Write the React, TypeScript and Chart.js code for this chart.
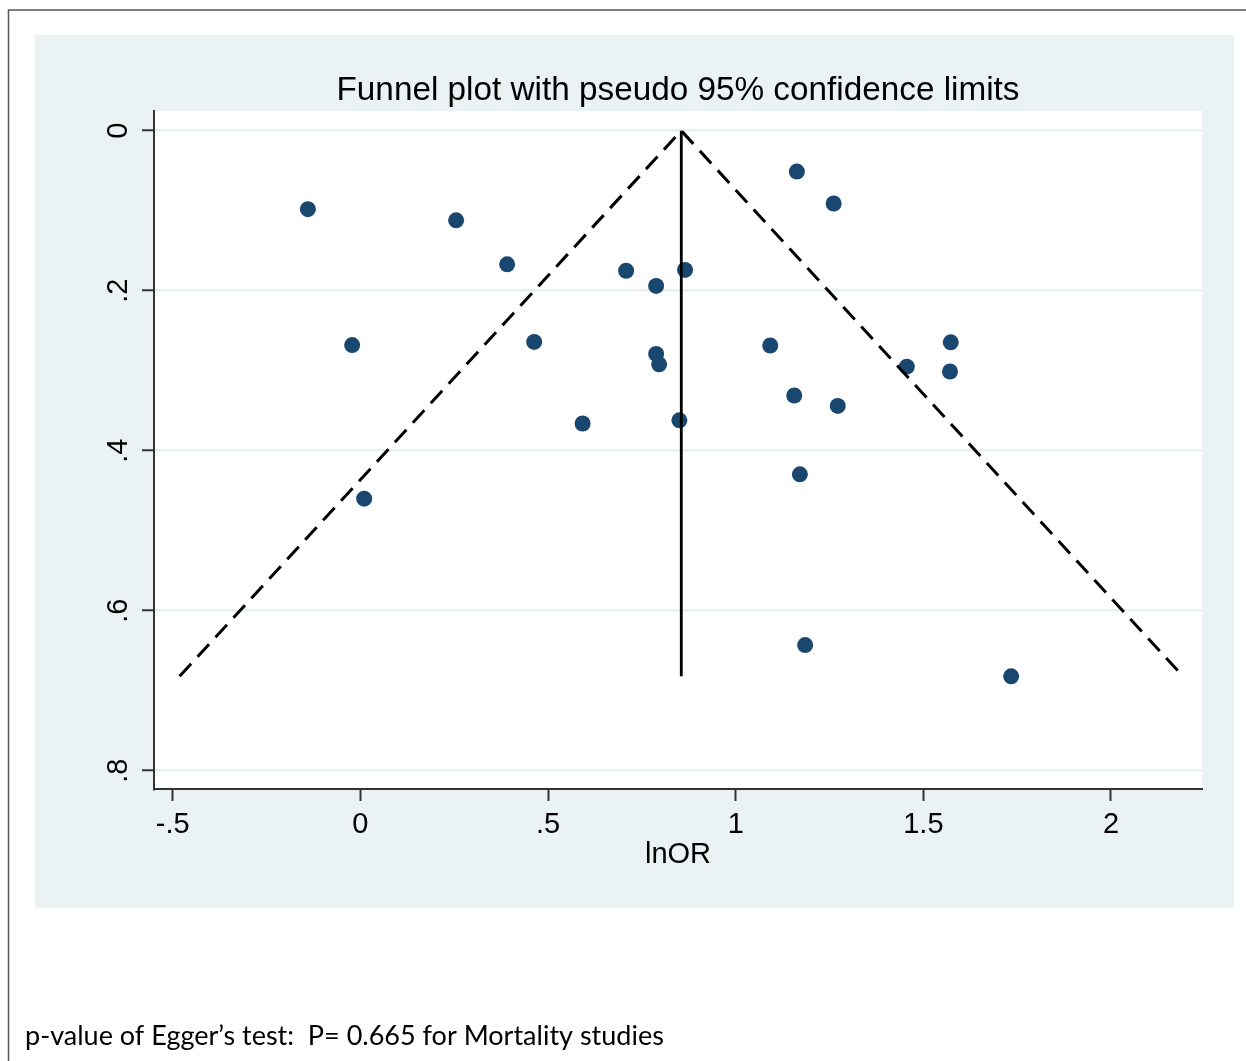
import { useEffect, useRef } from 'react';
import { Chart, registerables } from 'chart.js';

Chart.register(...registerables);

// Study estimates: log odds ratio and its standard error
const lnOR = [
  -0.140, 0.255, 0.391, -0.022, 0.463, 0.010, 0.592, 0.708, 0.788, 0.865, 0.788, 0.796,
  0.850, 1.163, 1.261, 1.092, 1.156, 1.272, 1.171, 1.456, 1.573, 1.571, 1.185, 1.734,
];
const seLnOR = [
  0.098, 0.112, 0.167, 0.268, 0.264, 0.460, 0.366, 0.175, 0.194, 0.174, 0.279, 0.292,
  0.362, 0.051, 0.091, 0.2685, 0.331, 0.344, 0.4295, 0.295, 0.2645, 0.301, 0.643, 0.682,
];

// Pooled (fixed-effect) estimate and the z value of the pseudo 95% limits
const pooledLnOR = 0.855;
const zLimit = 1.96;

const xTicks = [-0.5, 0, 0.5, 1, 1.5, 2];
const xTickLabels = ['-.5', '0', '.5', '1', '1.5', '2'];
const yTicks = [0, 0.2, 0.4, 0.6, 0.8];
const yTickLabels = ['0', '.2', '.4', '.6', '.8'];

const titleText = 'Funnel plot with pseudo 95% confidence limits';
const xTitle = 'lnOR';
const footnote = 'p-value of Egger\u2019s test:  P= 0.665 for Mortality studies';

const W = 1246;
const H = 1061;
const FONT = "'Liberation Sans', Arial, sans-serif";

export default function App() {
  const ref = useRef<HTMLCanvasElement | null>(null);

  useEffect(() => {
    const canvas = ref.current;
    if (!canvas) return;

    const maxSe = Math.max(...seLnOR);
    const funnel = [
      { x: pooledLnOR - zLimit * maxSe, y: maxSe },
      { x: pooledLnOR, y: 0 },
      { x: pooledLnOR + zLimit * maxSe, y: maxSe },
    ];
    const centre = [
      { x: pooledLnOR, y: 0 },
      { x: pooledLnOR, y: maxSe },
    ];
    const studies = lnOR.map((x, i) => ({ x, y: seLnOR[i] }));

    const backdrop = {
      id: 'backdrop',
      beforeDraw(chart: any) {
        const { ctx, chartArea } = chart;
        ctx.save();
        ctx.fillStyle = '#ffffff';
        ctx.fillRect(0, 0, W, H);
        // outer frame
        ctx.strokeStyle = '#555555';
        ctx.lineWidth = 1.5;
        ctx.beginPath();
        ctx.moveTo(8.5, H);
        ctx.lineTo(8.5, 10);
        ctx.lineTo(W, 10);
        ctx.stroke();
        // graph region
        ctx.fillStyle = '#EAF2F3';
        ctx.fillRect(35, 35, 1234 - 35, 908 - 35);
        // plot region
        ctx.fillStyle = '#ffffff';
        ctx.fillRect(chartArea.left, chartArea.top, chartArea.right - chartArea.left, chartArea.bottom - chartArea.top);
        ctx.restore();
      },
      afterDraw(chart: any) {
        const { ctx } = chart;
        ctx.save();
        ctx.fillStyle = '#000000';
        ctx.font = "27px Lato, 'Open Sans', sans-serif";
        ctx.textAlign = 'left';
        ctx.textBaseline = 'alphabetic';
        ctx.fillText(footnote, 25, 1045);
        ctx.restore();
      },
    };

    const chart = new Chart(canvas, {
      type: 'scatter',
      data: {
        datasets: [
          {
            label: 'limits',
            data: funnel,
            showLine: true,
            borderColor: '#000000',
            borderWidth: 3,
            borderDash: [17, 9.5],
            pointRadius: 0,
            fill: false,
          },
          {
            label: 'pooled',
            data: centre,
            showLine: true,
            borderColor: '#000000',
            borderWidth: 2.8,
            pointRadius: 0,
            fill: false,
          },
          {
            label: 'studies',
            data: studies,
            pointRadius: 8,
            pointHoverRadius: 8,
            pointBackgroundColor: '#1A476F',
            pointBorderWidth: 0,
            borderWidth: 0,
          },
        ],
      },
      options: {
        responsive: false,
        animation: false,
        events: [],
        layout: { padding: { left: 35, top: 35, right: 44, bottom: 153 } },
        plugins: {
          legend: { display: false },
          tooltip: { enabled: false },
          title: {
            display: true,
            text: titleText,
            fullSize: false,
            color: '#000000',
            font: { family: FONT, size: 33.3, weight: 'normal', lineHeight: 1.2 },
            padding: { top: 36, bottom: 0.1 },
          },
        },
        scales: {
          x: {
            type: 'linear',
            min: -0.55,
            max: 2.2425,
            afterBuildTicks: (scale: any) => {
              scale.ticks = xTicks.map((value) => ({ value }));
            },
            afterFit: (scale: any) => {
              scale.height = 119;
            },
            ticks: {
              color: '#000000',
              font: { family: FONT, size: 29, lineHeight: 1.2 },
              padding: 6.6,
              maxRotation: 0,
              minRotation: 0,
              callback: (v: any) => {
                const i = xTicks.indexOf(Number(v));
                return i >= 0 ? xTickLabels[i] : '';
              },
            },
            grid: {
              drawOnChartArea: false,
              drawTicks: true,
              tickLength: 12,
              tickColor: '#333333',
              tickWidth: 2,
            },
            border: { display: true, color: '#333333', width: 2 },
            title: {
              display: true,
              text: xTitle,
              color: '#000000',
              font: { family: FONT, size: 29, lineHeight: 1.2 },
              padding: { top: 0, bottom: 36 },
            },
          },
          y: {
            type: 'linear',
            reverse: true,
            min: -0.0246,
            max: 0.8229,
            afterBuildTicks: (scale: any) => {
              scale.ticks = yTicks.map((value) => ({ value }));
            },
            afterFit: (scale: any) => {
              scale.width = 119;
            },
            ticks: {
              color: '#000000',
              font: { family: FONT, size: 29, lineHeight: 1.2 },
              padding: 11.4,
              minRotation: 90,
              maxRotation: 90,
              crossAlign: 'center',
              callback: (v: any) => {
                const i = yTicks.indexOf(Number(v));
                return i >= 0 ? yTickLabels[i] : '';
              },
            },
            grid: {
              drawOnChartArea: true,
              color: '#E6EFF1',
              lineWidth: 2.5,
              drawTicks: true,
              tickLength: 12,
              tickColor: '#333333',
              tickWidth: 2,
            },
            border: { display: true, color: '#333333', width: 2 },
          },
        },
      },
      plugins: [backdrop],
    } as any);

    return () => chart.destroy();
  }, []);

  return (
    <div style={{ position: 'absolute', left: 0, top: 0, width: W, height: H }}>
      <canvas ref={ref} width={W} height={H} style={{ width: W, height: H, display: 'block' }} />
    </div>
  );
}
